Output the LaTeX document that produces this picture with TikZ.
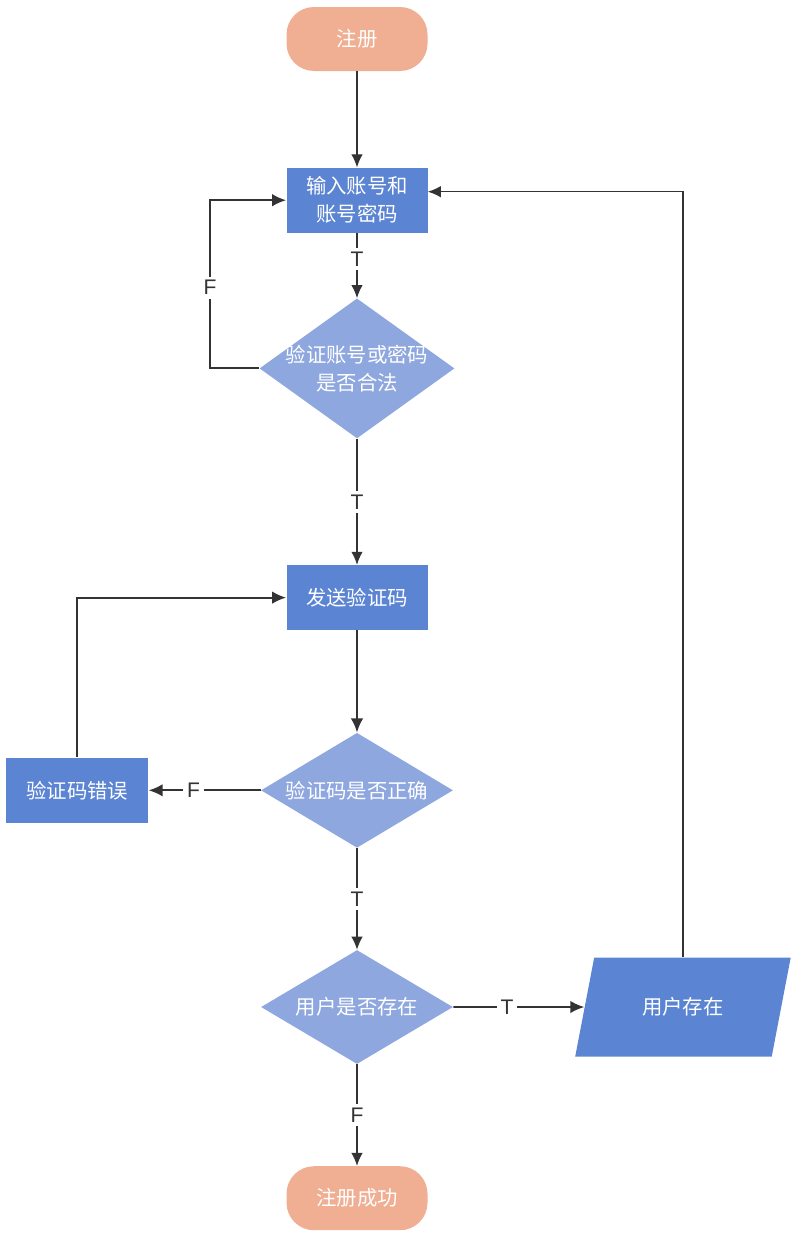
\documentclass[tikz,border=0pt]{standalone}
\usepackage{fontspec}
\setmainfont{Noto Sans CJK SC}
\newfontfamily\lblfont{Liberation Sans}
\usepackage{xcolor}
\usepackage{tikz}
\usetikzlibrary{shapes.geometric, arrows.meta, positioning, calc}
\definecolor{termcol}{HTML}{F0AE92}
\definecolor{boxcol}{HTML}{5B84D3}
\definecolor{deccol}{HTML}{8FA7DF}
\definecolor{linecol}{HTML}{333333}
\tikzstyle{terminal} = [rectangle, rounded corners=0.55cm, minimum width=2.82cm, minimum height=1.28cm, text centered, fill=termcol, text=white, font=\fontsize{11.6}{16}\selectfont]
\tikzstyle{process} = [rectangle, minimum width=2.82cm, minimum height=1.3cm, align=center, fill=boxcol, text=white, font=\fontsize{11.6}{16}\selectfont]
\tikzstyle{decision} = [diamond, inner sep=0pt, fill=deccol]
\tikzstyle{dtext} = [align=center, text=white, font=\fontsize{11.6}{16}\selectfont]
\tikzstyle{iobox} = [trapezium, trapezium left angle=72, trapezium right angle=108, trapezium stretches=true, minimum width=4.32cm, minimum height=1.98cm, fill=boxcol, text=white, font=\fontsize{11.6}{16}\selectfont]
\tikzstyle{arrow} = [draw=linecol, line width=0.7pt, -{Latex[length=2.6mm, width=2.3mm]}]
\tikzstyle{arrowthick} = [draw=linecol, line width=1.1pt, -{Latex[length=2.8mm, width=2.5mm]}]
\tikzstyle{lbl} = [fill=white, inner sep=2.2pt, text=linecol, font=\lblfont\fontsize{12}{14}\selectfont]

\begin{document}
\begin{tikzpicture}
    \useasboundingbox (0,0) rectangle (15.96,-24.88);
    % Nodes
    \node[terminal] (reg) at (7.14,-0.78) {注册};
    \node[process, below=1.92cm of reg] (input) {输入账号和\\账号密码};
    \node[decision, minimum width=3.9cm, minimum height=2.8cm, below=1.3cm of input,
          label={[dtext]center:验证账号或密码\\是否合法}] (check) {};
    \node[process, below=2.52cm of check] (send) {发送验证码};
    \node[decision, minimum width=3.84cm, minimum height=2.3cm, below=2.04cm of send,
          label={[dtext]center:验证码是否正确}] (code) {};
    \node[process, minimum width=2.84cm, left=2.24cm of code] (wrong) {验证码错误};
    \node[decision, minimum width=3.84cm, minimum height=2.28cm, below=2.03cm of code,
          label={[dtext]center:用户是否存在}] (user) {};
    \node[iobox, right=2.62cm of user] (exist) {用户存在};
    \node[terminal, below=2.03cm of user] (done) {注册成功};

    % Flow
    \draw[arrow] (reg) -- (input);
    \draw[arrow] (input) -- node[lbl, pos=0.4] {T} (check);
    \draw[arrowthick] (check.west) -- ++(-0.98,0) |- node[lbl, pos=0.24] {F} (input.west);
    \draw[arrow] (check) -- node[lbl, pos=0.5] {T} (send);
    \draw[arrowthick] (send) -- (code);
    \draw[arrowthick] (code.west) -- node[lbl, pos=0.6] {F} (wrong.east);
    \draw[arrowthick] (wrong.north) |- (send.west);
    \draw[arrow] (code) -- node[lbl, pos=0.5] {T} (user);
    \draw[arrowthick] (user.east) -- node[lbl, pos=0.41] {T} (exist);
    \draw[arrow] (exist.north -| exist.center) |- ([yshift=0.17cm]input.east);
    \draw[arrow] (user) -- node[lbl, pos=0.5] {F} (done);
\end{tikzpicture}
\end{document}
